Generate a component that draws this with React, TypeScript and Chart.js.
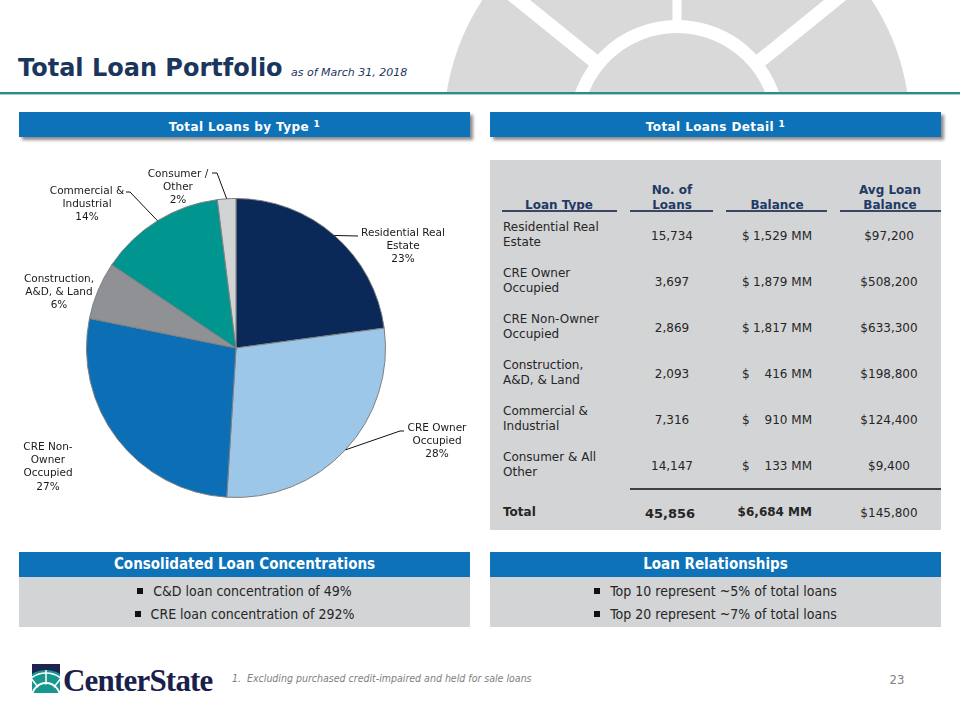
import React, { useEffect, useRef } from 'react';
import { Chart, registerables } from 'chart.js';

Chart.register(...registerables);

// ---------- DATA ----------
const categories = [
  'Residential Real Estate',
  'CRE Owner Occupied',
  'CRE Non-Owner Occupied',
  'Construction, A&D, & Land',
  'Commercial & Industrial',
  'Consumer / Other',
];
const balanceMM = [1529, 1879, 1817, 416, 910, 133];
const sliceLabelLines = [
  ['Residential Real', 'Estate'],
  ['CRE Owner', 'Occupied'],
  ['CRE Non-', 'Owner', 'Occupied'],
  ['Construction,', 'A&D, & Land'],
  ['Commercial &', 'Industrial'],
  ['Consumer /', 'Other'],
];
const tableTypeLines = [
  ['Residential Real', 'Estate'],
  ['CRE Owner', 'Occupied'],
  ['CRE Non-Owner', 'Occupied'],
  ['Construction,', 'A&D, & Land'],
  ['Commercial &', 'Industrial'],
  ['Consumer & All', 'Other'],
];
const loanCounts = [15734, 3697, 2869, 2093, 7316, 14147];
const avgLoanBalance = [97200, 508200, 633300, 198800, 124400, 9400];
const totalAvgLoanBalance = 145800;
const concentrationBullets = ['C&D loan concentration of 49%', 'CRE loan concentration of 292%'];
const relationshipBullets = ['Top 10 represent ~5% of total loans', 'Top 20 represent ~7% of total loans'];

// ---------- STYLE ----------
const sliceColors = ['#0A2858', '#9DC7E9', '#0C6FB5', '#8F9194', '#00968F', '#D2D3D5'];
const BLUE = '#0E72B9';
const GRAY = '#D3D4D6';
const NAVY = '#1F3A64';
const TXT = '#262626';
const MAIN = '"DejaVu Sans", Verdana, sans-serif';
const NARROW = '"Liberation Sans Narrow", "DejaVu Sans Condensed", "Roboto Condensed", sans-serif';

// label placement relative to pie centre (styling only)
const labelLayout = [
  { tx: 167, ty: -115, lh: 13.3, leader: [[122, -112]] },
  { tx: 201, ty: 80, lh: 13.3, leader: [[164, 83], [168, 83]] },
  { tx: -188, ty: 99, lh: 13.3, leader: null },
  { tx: -177, ty: -69, lh: 13.3, leader: null },
  { tx: -149, ty: -157, lh: 13, leader: [[-106, -156], [-110, -156]] },
  { tx: -58, ty: -174, lh: 13, leader: [[-19, -175], [-24, -175]] },
];

const labelPlugin = {
  id: 'sliceLabels',
  afterDatasetsDraw(chart: any) {
    const meta = chart.getDatasetMeta(0);
    const ctx = chart.ctx;
    const data = chart.data.datasets[0].data as number[];
    const total = data.reduce((a, b) => a + b, 0);
    ctx.save();
    ctx.font = '10.5px "DejaVu Sans"';
    ctx.fillStyle = '#1a1a1a';
    ctx.textAlign = 'center';
    ctx.textBaseline = 'middle';
    ctx.strokeStyle = '#111';
    ctx.lineWidth = 1;
    meta.data.forEach((arc: any, i: number) => {
      const p = arc.getProps(['x', 'y', 'startAngle', 'endAngle', 'outerRadius'], true);
      const mid = (p.startAngle + p.endAngle) / 2;
      const ax = p.x + Math.cos(mid) * p.outerRadius;
      const ay = p.y + Math.sin(mid) * p.outerRadius;
      const lay = labelLayout[i];
      if (lay.leader) {
        ctx.beginPath();
        ctx.moveTo(ax, ay);
        lay.leader.forEach(([dx, dy]) => ctx.lineTo(p.x + dx, p.y + dy));
        ctx.stroke();
      }
      const lines = [...sliceLabelLines[i], Math.round((data[i] / total) * 100) + '%'];
      lines.forEach((t, k) => ctx.fillText(t, p.x + lay.tx, p.y + lay.ty + k * lay.lh));
    });
    ctx.restore();
  },
};

const fmt = (n: number) => n.toLocaleString('en-US');

function T(props: { x: number; y: number; align?: 'left' | 'center' | 'right'; style?: any; children: any }) {
  const { x, y, align = 'center', style, children } = props;
  const tx = align === 'center' ? '-50%' : align === 'right' ? '-100%' : '0';
  return (
    <div
      style={{
        position: 'absolute',
        left: x,
        top: y,
        transform: `translate(${tx}, -50%)`,
        whiteSpace: 'nowrap',
        textAlign: align,
        ...style,
      }}
    >
      {children}
    </div>
  );
}

function Box(props: { x: number; y: number; w: number; h: number; style?: any; children?: any }) {
  const { x, y, w, h, style, children } = props;
  return <div style={{ position: 'absolute', left: x, top: y, width: w, height: h, ...style }}>{children}</div>;
}

function PieChart() {
  const ref = useRef<HTMLCanvasElement | null>(null);
  useEffect(() => {
    if (!ref.current) return;
    const chart = new Chart(ref.current, {
      type: 'pie',
      data: {
        labels: categories,
        datasets: [
          {
            data: balanceMM,
            backgroundColor: sliceColors,
            borderColor: '#7f7f7f',
            borderWidth: 1,
          },
        ],
      },
      options: {
        responsive: false,
        animation: false,
        events: [],
        layout: { padding: { left: 67, right: 84, top: 58, bottom: 52 } },
        plugins: { legend: { display: false }, tooltip: { enabled: false } },
      },
      plugins: [labelPlugin],
    } as any);
    return () => chart.destroy();
  }, []);
  return (
    <canvas ref={ref} width={451} height={410} style={{ position: 'absolute', left: 19, top: 140, width: 451, height: 410 }} />
  );
}

function HeaderBar(props: { x: number; y: number; w: number; text: any; shadow?: boolean; narrow?: boolean }) {
  const { x, y, w, text, shadow, narrow } = props;
  return (
    <Box
      x={x}
      y={y}
      w={w}
      h={25}
      style={{
        background: BLUE,
        boxShadow: shadow ? '3px 3px 3px rgba(0,0,0,0.45)' : 'none',
        color: '#fff',
        fontFamily: narrow ? NARROW : MAIN,
        fontWeight: 'bold',
        fontSize: narrow ? 15 : 12,
        letterSpacing: narrow ? 0 : 0.4,
        lineHeight: '25px',
        textAlign: 'center',
        whiteSpace: 'nowrap',
      }}
    >
      {text}
    </Box>
  );
}

function BulletBox(props: { x: number; items: string[] }) {
  const { x, items } = props;
  return (
    <Box x={x} y={577} w={451} h={50} style={{ background: GRAY }}>
      {items.map((t, i) => (
        <div
          key={i}
          style={{
            position: 'absolute',
            left: 0,
            width: 451,
            top: i === 0 ? 6 : 29,
            height: 16,
            lineHeight: '16px',
            textAlign: 'center',
            fontFamily: NARROW,
            fontSize: 14,
            color: TXT,
            whiteSpace: 'nowrap',
          }}
        >
          <span style={{ display: 'inline-block', width: 6, height: 6, background: '#111', marginRight: 10, verticalAlign: 'middle', position: 'relative', top: -1 }} />
          {t}
        </div>
      ))}
    </Box>
  );
}

function Table() {
  const rowY = [236, 282, 328, 374, 420, 466];
  const totalLoans = loanCounts.reduce((a, b) => a + b, 0);
  const totalBal = balanceMM.reduce((a, b) => a + b, 0);
  const base = { fontFamily: MAIN, fontSize: 12, color: TXT, lineHeight: '15px' };
  const head = { fontFamily: MAIN, fontSize: 12, fontWeight: 'bold', color: NAVY, lineHeight: '15px' };
  return (
    <>
      <Box x={490} y={160} w={451} h={370} style={{ background: GRAY }} />
      <T x={559} y={205} style={head}>Loan Type</T>
      <T x={672} y={197.5} style={head}>No. of<br />Loans</T>
      <T x={777} y={205} style={head}>Balance</T>
      <T x={890} y={197.5} style={head}>Avg Loan<br />Balance</T>
      <Box x={502} y={210} w={115} h={1.5} style={{ background: '#3b4660' }} />
      <Box x={630} y={210} w={83} h={1.5} style={{ background: '#3b4660' }} />
      <Box x={726} y={210} w={101} h={1.5} style={{ background: '#3b4660' }} />
      <Box x={840} y={210} w={101} h={1.5} style={{ background: '#3b4660' }} />
      {rowY.map((y, i) => (
        <React.Fragment key={i}>
          <T x={503} y={y - 1.5} align="left" style={base}>
            {tableTypeLines[i][0]}
            <br />
            {tableTypeLines[i][1]}
          </T>
          <T x={672} y={y} style={base}>{fmt(loanCounts[i])}</T>
          <T x={742} y={y} align="left" style={base}>$</T>
          <T x={812} y={y} align="right" style={base}>{fmt(balanceMM[i])} MM</T>
          <T x={889} y={y} style={base}>${fmt(avgLoanBalance[i])}</T>
        </React.Fragment>
      ))}
      <Box x={630} y={488} w={311} h={1.5} style={{ background: '#404040' }} />
      <T x={503} y={512} align="left" style={{ ...base, fontWeight: 'bold' }}>Total</T>
      <T x={670} y={513} style={{ ...base, fontWeight: 'bold', fontSize: 13 }}>{fmt(totalLoans)}</T>
      <T x={812} y={512} align="right" style={{ ...base, fontWeight: 'bold' }}>${fmt(totalBal)} MM</T>
      <T x={889} y={513} style={base}>${fmt(totalAvgLoanBalance)}</T>
    </>
  );
}

function Decor() {
  const cx = 677, cy = 128;
  const spoke = (deg: number, w: number) => {
    const a = (deg * Math.PI) / 180;
    return (
      <line
        x1={cx + Math.cos(a) * 102}
        y1={cy + Math.sin(a) * 102}
        x2={cx + Math.cos(a) * 260}
        y2={cy + Math.sin(a) * 260}
        stroke="#fff"
        strokeWidth={w}
      />
    );
  };
  return (
    <svg width={960} height={720} style={{ position: 'absolute', left: 0, top: 0 }}>
      <defs>
        <clipPath id="topclip">
          <rect x={0} y={0} width={960} height={92} />
        </clipPath>
        <clipPath id="logoclip">
          <rect x={32} y={664} width={28} height={29} />
        </clipPath>
      </defs>
      <g clipPath="url(#topclip)">
        <circle cx={cx} cy={cy} r={233} fill="#D9D9D9" />
        <circle cx={cx} cy={cy} r={101.5} fill="none" stroke="#fff" strokeWidth={13} />
        {spoke(-90, 9)}
        {spoke(-141, 14)}
        {spoke(-39, 14)}
      </g>
      <rect x={0} y={92} width={960} height={2} fill="#2E8B8B" />
      <rect x={0} y={94} width={960} height={1} fill="#A8D2D2" />
      {/* logo icon */}
      <g clipPath="url(#logoclip)">
        <rect x={32} y={664} width={28} height={29} fill="#1D2453" />
        <circle cx={46} cy={697} r={27} fill="#17978E" />
        <circle cx={46} cy={697} r={14} fill="none" stroke="#fff" strokeWidth={2} />
        <circle cx={46} cy={697} r={24} fill="none" stroke="#fff" strokeWidth={1.5} />
        <line x1={46} y1={697} x2={46} y2={670} stroke="#fff" strokeWidth={1.5} />
        <line x1={46} y1={697} x2={30} y2={677} stroke="#fff" strokeWidth={1.5} />
        <line x1={46} y1={697} x2={62} y2={677} stroke="#fff" strokeWidth={1.5} />
        <circle cx={46} cy={697} r={12.5} fill="#17978E" />
      </g>
    </svg>
  );
}

export default function App() {
  return (
    <div
      style={{
        position: 'absolute',
        left: 0,
        top: 0,
        width: 960,
        height: 720,
        overflow: 'hidden',
        background: '#fff',
        fontFamily: MAIN,
      }}
    >
      <Decor />
      <T x={18} y={68} align="left" style={{ fontFamily: MAIN, fontWeight: 'bold', fontSize: 24, color: '#1B365D', lineHeight: '24px' }}>
        Total Loan Portfolio
      </T>
      <T x={291} y={73} align="left" style={{ fontFamily: MAIN, fontStyle: 'italic', fontSize: 11, color: '#1B365D', lineHeight: '12px' }}>
        as of March 31, 2018
      </T>

      <HeaderBar x={19} y={112} w={451} shadow text={<>Total Loans by Type <sup style={{ fontSize: 9, verticalAlign: 4 }}>1</sup></>} />
      <HeaderBar x={490} y={112} w={451} shadow text={<>Total Loans Detail <sup style={{ fontSize: 9, verticalAlign: 4 }}>1</sup></>} />

      <PieChart />
      <Table />

      <HeaderBar x={19} y={552} w={451} narrow text="Consolidated Loan Concentrations" />
      <HeaderBar x={490} y={552} w={451} narrow text="Loan Relationships" />
      <BulletBox x={19} items={concentrationBullets} />
      <BulletBox x={490} items={relationshipBullets} />

      <T x={63} y={680} align="left" style={{ fontFamily: '"Liberation Serif", serif', fontWeight: 'bold', fontSize: 31, color: '#1B1F4B', letterSpacing: -0.8, lineHeight: '31px' }}>
        CenterState
      </T>
      <T x={232} y={678} align="left" style={{ fontFamily: NARROW, fontStyle: 'italic', fontSize: 10.5, color: '#808080', lineHeight: '12px' }}>
        1.&nbsp;&nbsp;Excluding purchased credit-impaired and held for sale loans
      </T>
      <T x={897} y={680} style={{ fontFamily: NARROW, fontSize: 13, color: '#808080', lineHeight: '14px' }}>
        23
      </T>
    </div>
  );
}
